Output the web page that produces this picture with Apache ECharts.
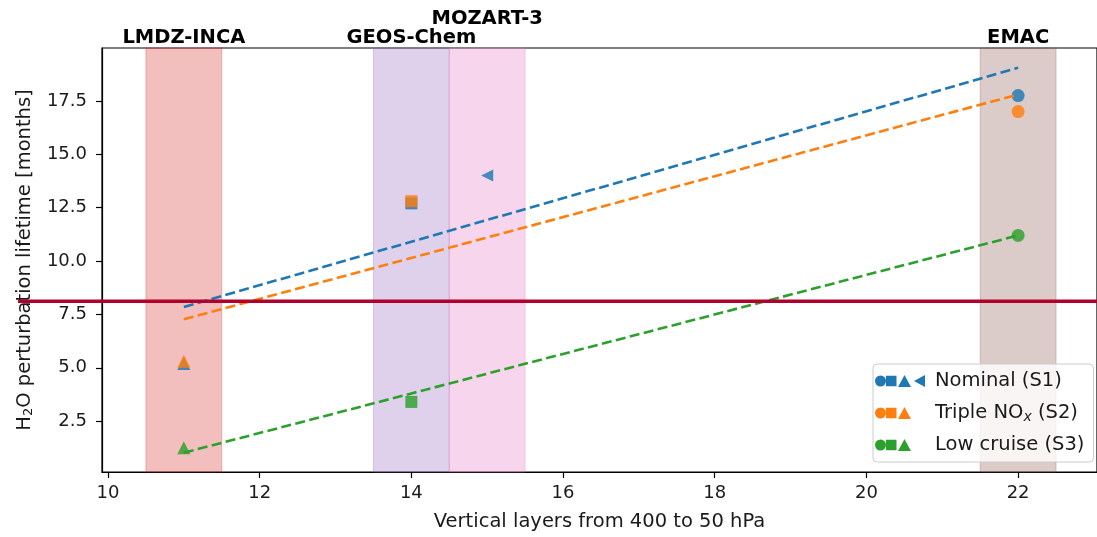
<!DOCTYPE html>
<html>
<head>
<meta charset="utf-8">
<title>H2O perturbation lifetime vs vertical layers</title>
<script src="https://cdn.jsdelivr.net/npm/echarts@6/dist/echarts.min.js"></script>
<style>
  html, body { margin: 0; padding: 0; background: #ffffff; }
  #chart { width: 1097px; height: 537px; }
</style>
</head>
<body>
<div id="chart"></div>
<script>
// Models and their number of vertical layers between 400 and 50 hPa
const modelNames = ['LMDZ-INCA', 'GEOS-Chem', 'MOZART-3', 'EMAC'];
const modelLayers = [11, 14, 15, 22];

// H2O perturbation lifetime [months] per scenario (null: not simulated)
const nominalS1 = [5.2, 12.7, 14.0, 17.75];
const tripleNoxS2 = [5.3, 12.8, null, 17.0];
const lowCruiseS3 = [1.25, 3.4, null, 11.2];

// Linear fits, evaluated at the first and last layer count
const fitLayers = [11, 22];
const fitNominal = [7.85, 19.05];
const fitTriple = [7.27, 17.8];
const fitLow = [1.02, 11.2];

// Horizontal reference level [months]
const referenceLevel = 8.12;

// Tick values
const xTicks = [10, 12, 14, 16, 18, 20, 22];
const yTicks = [2.5, 5.0, 7.5, 10.0, 12.5, 15.0, 17.5];

const FONT = 'DejaVu Sans';
const TEXT = '#1a1a1a';
const colors = { s1: '#1f77b4', s2: '#ff7f0e', s3: '#2ca02c' };
const bandColors = ['214,39,40', '148,103,189', '227,119,194', '140,86,75'];
const leftTri = 'path://M0,5 L10,0 L10,10 Z';
const modelSymbols = ['triangle', 'rect', leftTri, 'circle'];
const modelSymbolSizes = [13, 12, 12, 13];
const labelDistances = [0, 0, 19, 0];

function markerData(values) {
  const out = [];
  values.forEach((v, i) => {
    if (v === null) return;
    out.push({
      value: [modelLayers[i], v],
      symbol: modelSymbols[i],
      symbolSize: modelSymbolSizes[i]
    });
  });
  return out;
}

function fitData(values) {
  return fitLayers.map((x, i) => [x, values[i]]);
}

// Legend handles: circle, square, triangle (and left triangle for S1)
const baseHandle = 'M0,6 A5.5,5.5 0 1,1 11,6 A5.5,5.5 0 1,1 0,6 Z ' +
  'M11,0.8 L21.5,0.8 L21.5,11.2 L11,11.2 Z ' +
  'M23,12 L29.5,0 L36,12 Z ';
const iconS1 = 'path://' + baseHandle + 'M39,6 L50,0 L50,12 Z M55,6 L55,6.01 L54.99,6 Z';
const iconOther = 'path://' + baseHandle + 'M55,6 L55,6.01 L54.99,6 Z';

const bandAreas = modelLayers.map((x, i) => [
  {
    name: modelNames[i],
    xAxis: x - 0.5,
    itemStyle: {
      color: 'rgba(' + bandColors[i] + ',0.3)',
      borderColor: 'rgba(' + bandColors[i] + ',0.3)',
      borderWidth: 1
    },
    label: {
      show: true,
      position: 'top',
      distance: labelDistances[i],
      formatter: '{b}',
      fontFamily: FONT,
      fontWeight: 'bold',
      fontSize: 19.5,
      color: '#000'
    }
  },
  { xAxis: x + 0.5 }
]);

const chart = echarts.init(document.getElementById('chart'), null, { renderer: 'canvas' });

const option = {
  animation: false,
  backgroundColor: '#ffffff',
  textStyle: { fontFamily: FONT },
  grid: {
    left: 102, right: -2, top: 48, bottom: 64,
    show: true, borderColor: '#000', borderWidth: 1.2, backgroundColor: 'transparent'
  },
  xAxis: {
    type: 'value',
    min: 9.921, max: 23.04,
    name: 'Vertical layers from 400 to 50 hPa',
    nameLocation: 'middle',
    nameGap: 40,
    nameTextStyle: { fontFamily: FONT, fontSize: 19.5, color: TEXT },
    axisLine: { show: true, onZero: false, lineStyle: { color: '#000', width: 1.2 } },
    axisTick: { show: true, length: 6, lineStyle: { color: '#000', width: 1.2 }, customValues: xTicks },
    axisLabel: {
      fontFamily: FONT, fontSize: 18, color: TEXT, margin: 12,
      customValues: xTicks
    },
    splitLine: { show: false }
  },
  yAxis: {
    type: 'value',
    min: 0.117, max: 19.977,
    name: 'H{sub|2}O perturbation lifetime [months]',
    nameLocation: 'middle',
    nameGap: 67,
    nameTextStyle: {
      fontFamily: FONT, fontSize: 19.5, color: TEXT,
      rich: { sub: { fontFamily: FONT, fontSize: 13, color: TEXT, verticalAlign: 'bottom', lineHeight: 13 } }
    },
    axisLine: { show: true, onZero: false, lineStyle: { color: '#000', width: 1.2 } },
    axisTick: { show: true, length: 6, lineStyle: { color: '#000', width: 1.2 }, customValues: yTicks },
    axisLabel: {
      fontFamily: FONT, fontSize: 18, color: TEXT, margin: 15,
      customValues: yTicks,
      formatter: v => v.toFixed(1)
    },
    splitLine: { show: false }
  },
  legend: {
    orient: 'vertical',
    left: 873, top: 364,
    itemWidth: 55, itemHeight: 12, itemGap: 10,
    padding: [6, 9, 6, 2],
    backgroundColor: 'rgba(255,255,255,0.8)',
    borderColor: '#cccccc', borderWidth: 1, borderRadius: 4,
    itemStyle: { opacity: 1 },
    textStyle: {
      fontFamily: FONT, fontSize: 19.5, color: TEXT, lineHeight: 22,
      rich: { sub: { fontFamily: FONT, fontSize: 14, fontStyle: 'italic', color: TEXT, verticalAlign: 'bottom', lineHeight: 16 } }
    },
    formatter: name => name === 'Triple NOx (S2)' ? 'Triple NO{sub|x} (S2)' : name,
    data: [
      { name: 'Nominal (S1)', icon: iconS1 },
      { name: 'Triple NOx (S2)', icon: iconOther },
      { name: 'Low cruise (S3)', icon: iconOther }
    ]
  },
  series: [
    {
      name: 'model bands',
      type: 'scatter',
      data: [],
      clip: false,
      silent: true,
      z: 1,
      markArea: { silent: true, data: bandAreas }
    },
    {
      name: 'Nominal (S1)', type: 'scatter', z: 2,
      color: colors.s1, itemStyle: { color: colors.s1, opacity: 0.82 },
      data: markerData(nominalS1)
    },
    {
      name: 'Triple NOx (S2)', type: 'scatter', z: 2,
      color: colors.s2, itemStyle: { color: colors.s2, opacity: 0.82 },
      data: markerData(tripleNoxS2)
    },
    {
      name: 'Low cruise (S3)', type: 'scatter', z: 2,
      color: colors.s3, itemStyle: { color: colors.s3, opacity: 0.82 },
      data: markerData(lowCruiseS3)
    },
    {
      name: 'Nominal (S1)', type: 'line', z: 3, symbol: 'none', silent: true,
      color: colors.s1,
      lineStyle: { color: colors.s1, width: 2.6, type: [10, 4.4] },
      data: fitData(fitNominal)
    },
    {
      name: 'Triple NOx (S2)', type: 'line', z: 3, symbol: 'none', silent: true,
      color: colors.s2,
      lineStyle: { color: colors.s2, width: 2.6, type: [10, 4.4] },
      data: fitData(fitTriple)
    },
    {
      name: 'Low cruise (S3)', type: 'line', z: 3, symbol: 'none', silent: true,
      color: colors.s3,
      lineStyle: { color: colors.s3, width: 2.6, type: [10, 4.4] },
      data: fitData(fitLow)
    }
  ]
};

chart.setOption(option);

// Reference level drawn across the full width
const refY = chart.convertToPixel({ yAxisIndex: 0 }, referenceLevel);
chart.setOption({
  graphic: [{
    type: 'line',
    z: 100,
    shape: { x1: 18, y1: refY, x2: 1097, y2: refY },
    style: { stroke: '#b0002b', lineWidth: 3.5 }
  }]
});
</script>
</body>
</html>
